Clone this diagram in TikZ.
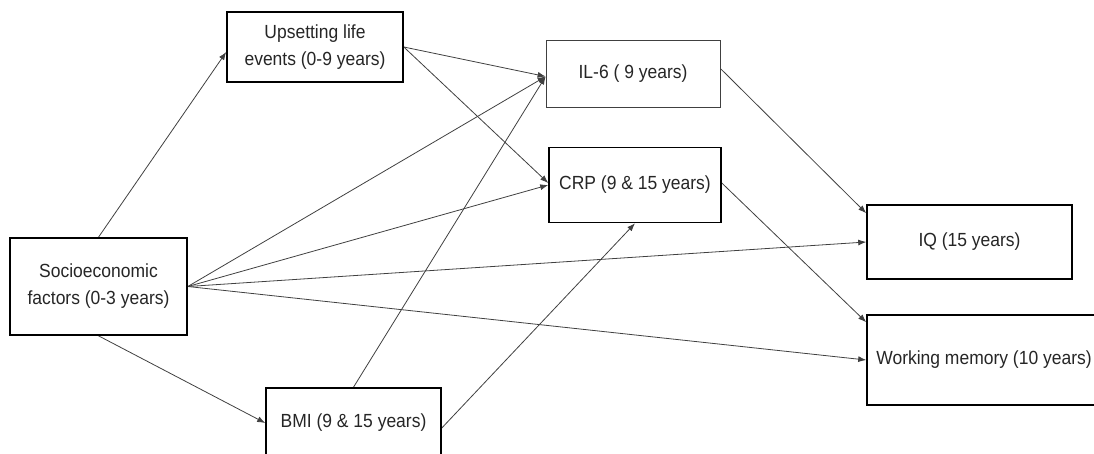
\documentclass[tikz,border=0pt]{standalone}
\usepackage{fontspec}
\setmainfont[FakeStretch = 0.92]{Liberation Sans}
\usepackage{tikz}
\usetikzlibrary{arrows.meta, backgrounds}
\pgfdeclarelayer{background}
\pgfsetlayers{background,main}

\begin{document}
\begin{tikzpicture}[x=1pt, y=-1pt]

    % Page frame
    \useasboundingbox (0, 0) rectangle (1094, 453);

    % Boxes
    \tikzset{bx/.style={draw = black, line width = 1.6pt, fill = white, inner sep = 0pt, align = center,
        text = black!85, font = \fontsize{19}{27}\selectfont}}
    \tikzset{lbx/.style={bx, line width = 0.8pt, draw = black!75}}

    % Paths
    \tikzset{pA/.style={draw = black!75, line width = 0.8pt, -{Latex[length = 8pt, width = 6pt]}}}

    % Nodes
    \node (soc) [bx, minimum width = 177, minimum height = 97] at ( 98.5, 286.5) {Socioeconomic\\factors (0-3 years)};
    	\node (ule) [bx, minimum width = 176, minimum height = 70] at ( 315, 47) {Upsetting life\\events (0-9 years)};
    	\node (bmi) [bx, minimum width = 175, minimum height = 70] at ( 353.5, 423) {BMI (9 \& 15 years)};
    		\node (il6) [lbx, minimum width = 174, minimum height = 67] at ( 633, 73.5) {IL-6 ( 9 years)};
    		\node (crp) [bx, minimum width = 172, minimum height = 75] at ( 635, 185) {CRP (9 \& 15 years)};
    			\node (iq) [bx, minimum width = 205, minimum height = 74] at ( 969.5, 242) {IQ (15 years)};
    			\node (wm) [bx, minimum width = 234, minimum height = 90] at ( 984, 360) {Working memory (10 years)};

    % Background image
    \begin{pgfonlayer}{background}

    	% From socioeconomic factors
    	\path[pA] (soc.north) -- ([yshift = -5pt]ule.west);
    	\path[pA] (soc.south) -- (bmi.west);
    	\path[pA] (soc.east) -- ([yshift = -3pt]il6.west);
    	\path[pA] (soc.east) -- (crp.west);
    	\path[pA] (soc.east) -- (iq.west);
    	\path[pA] (soc.east) -- (wm.west);

    		% From upsetting life events
    		\path[pA] (ule.east) -- ([yshift = -3pt]il6.west);
    		\path[pA] (ule.east) -- ([yshift = 2pt]crp.west);

    		% From BMI
    		\path[pA] (bmi.north) -- ([yshift = -3pt]il6.west);
    		\path[pA] ([yshift = -5pt]bmi.east) -- (crp.south);

    			% To the outcomes
    			\path[pA] ([yshift = 5pt]il6.east) -- ([yshift = -9pt]iq.north west);
    			\path[pA] ([yshift = 2pt]crp.east) -- ([yshift = -8pt]wm.north west);

    \end{pgfonlayer}

\end{tikzpicture}
\end{document}
